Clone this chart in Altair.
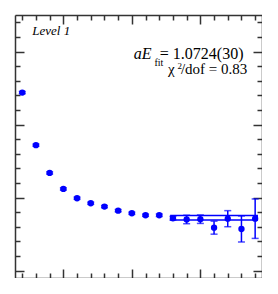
import altair as alt
import pandas as pd

# ---- data ----
t_vals = list(range(2, 20))
m_eff = [1.2438, 1.1718, 1.1338, 1.1119, 1.0992, 1.0923, 1.0877, 1.0822, 1.0786,
         1.0759, 1.0759, 1.0718, 1.0701, 1.0705, 1.0589, 1.0712, 1.0571, 1.0712]
m_err = [0.0015, 0.0015, 0.0015, 0.0015, 0.0015, 0.0015, 0.0015, 0.0015, 0.0015,
         0.0015, 0.0017, 0.0025, 0.0058, 0.0058, 0.0089, 0.011, 0.0178, 0.027]
fit_value = [1.0724]
fit_error = [0.0030]
fit_t_start = [12.85]
fit_t_end = [19.15]
x_ticks = list(range(2, 20))
y_ticks = [1.00, 1.02, 1.04, 1.06, 1.08, 1.10, 1.12, 1.14, 1.16, 1.18,
           1.20, 1.22, 1.24, 1.26, 1.28, 1.30, 1.32, 1.34]

W, H = 247, 263
BLUE = "#0000ff"
INK = "#333333"
SERIF = "Liberation Serif"

df = pd.DataFrame({"t": t_vals, "m": m_eff, "e": m_err})
df["lo"] = df["m"] - df["e"]
df["hi"] = df["m"] + df["e"]
fit_df = pd.DataFrame({"t0": fit_t_start, "t1": fit_t_end,
                       "lo": [fit_value[0] - fit_error[0]],
                       "hi": [fit_value[0] + fit_error[0]]})

xscale = alt.Scale(domain=[1.47, 19.5], nice=False, zero=False)
yscale = alt.Scale(domain=[0.99, 1.35], nice=False, zero=False)

x_size = {"condition": {"test": "datum.value % 5 === 0", "value": 9}, "value": 5}
y_size = {"condition": {"test": "abs(datum.value*10 - round(datum.value*10)) < 0.000001",
                        "value": 9}, "value": 5}

def xaxis(orient):
    return alt.Axis(orient=orient, offset=-H, labels=False, title=None, grid=False,
                    values=x_ticks, tickSize=x_size, tickColor=INK, tickWidth=1.5,
                    domainColor=INK, domainWidth=1.5)

def yaxis(orient):
    return alt.Axis(orient=orient, offset=-W, labels=False, title=None, grid=False,
                    values=y_ticks, tickSize=y_size, tickColor=INK, tickWidth=1.5,
                    domainColor=INK, domainWidth=1.5)

band = alt.Chart(fit_df).mark_rect(fillOpacity=0, stroke=BLUE, strokeWidth=1.5).encode(
    x=alt.X("t0:Q", scale=xscale, axis=xaxis("top")),
    x2="t1:Q",
    y=alt.Y("lo:Q", scale=yscale, axis=yaxis("right")),
    y2="hi:Q",
)

bars = alt.Chart(df).mark_rule(color=BLUE, strokeWidth=1.5).encode(
    x=alt.X("t:Q", scale=xscale, axis=xaxis("bottom")),
    y=alt.Y("lo:Q", scale=yscale, axis=yaxis("left")),
    y2="hi:Q",
)

caps_lo = alt.Chart(df).mark_tick(orient="horizontal", size=7, thickness=1.5, color=BLUE).encode(
    x=alt.X("t:Q", scale=xscale, axis=None),
    y=alt.Y("lo:Q", scale=yscale, axis=None),
)
caps_hi = alt.Chart(df).mark_tick(orient="horizontal", size=7, thickness=1.5, color=BLUE).encode(
    x=alt.X("t:Q", scale=xscale, axis=None),
    y=alt.Y("hi:Q", scale=yscale, axis=None),
)

pts = alt.Chart(df).mark_point(filled=True, size=40, color=BLUE, opacity=1).encode(
    x=alt.X("t:Q", scale=xscale, axis=None),
    y=alt.Y("m:Q", scale=yscale, axis=None),
)

one = pd.DataFrame({"k": [0]})

def label(txt, x, y, size, align="left", style="normal"):
    return alt.Chart(one).mark_text(
        text=txt, font=SERIF, fontSize=size, fontStyle=style, align=align,
        baseline="alphabetic", color="black"
    ).encode(x=alt.value(x), y=alt.value(y))

texts = [
    label("Level 1", 17.3, 20, 13, style="italic"),
    label("aE", 118.7, 44, 16, style="italic"),
    label("fit", 139.5, 51, 10),
    label("= 1.0724(30)", 228.5, 44, 16, align="right"),
    label("χ", 153, 58.5, 15),
    label("2", 162.5, 53.5, 9),
    label("/dof = 0.83", 232.3, 58.5, 15, align="right"),
]

chart = alt.layer(band, bars, caps_lo, caps_hi, pts, *texts).properties(
    width=W, height=H,
    padding={"left": 7, "top": 7, "right": 0, "bottom": 0},
    autosize="none",
).configure_view(stroke=None).configure(background="white")

chart.save("out.html", embed_options={"renderer": "svg", "actions": False})
